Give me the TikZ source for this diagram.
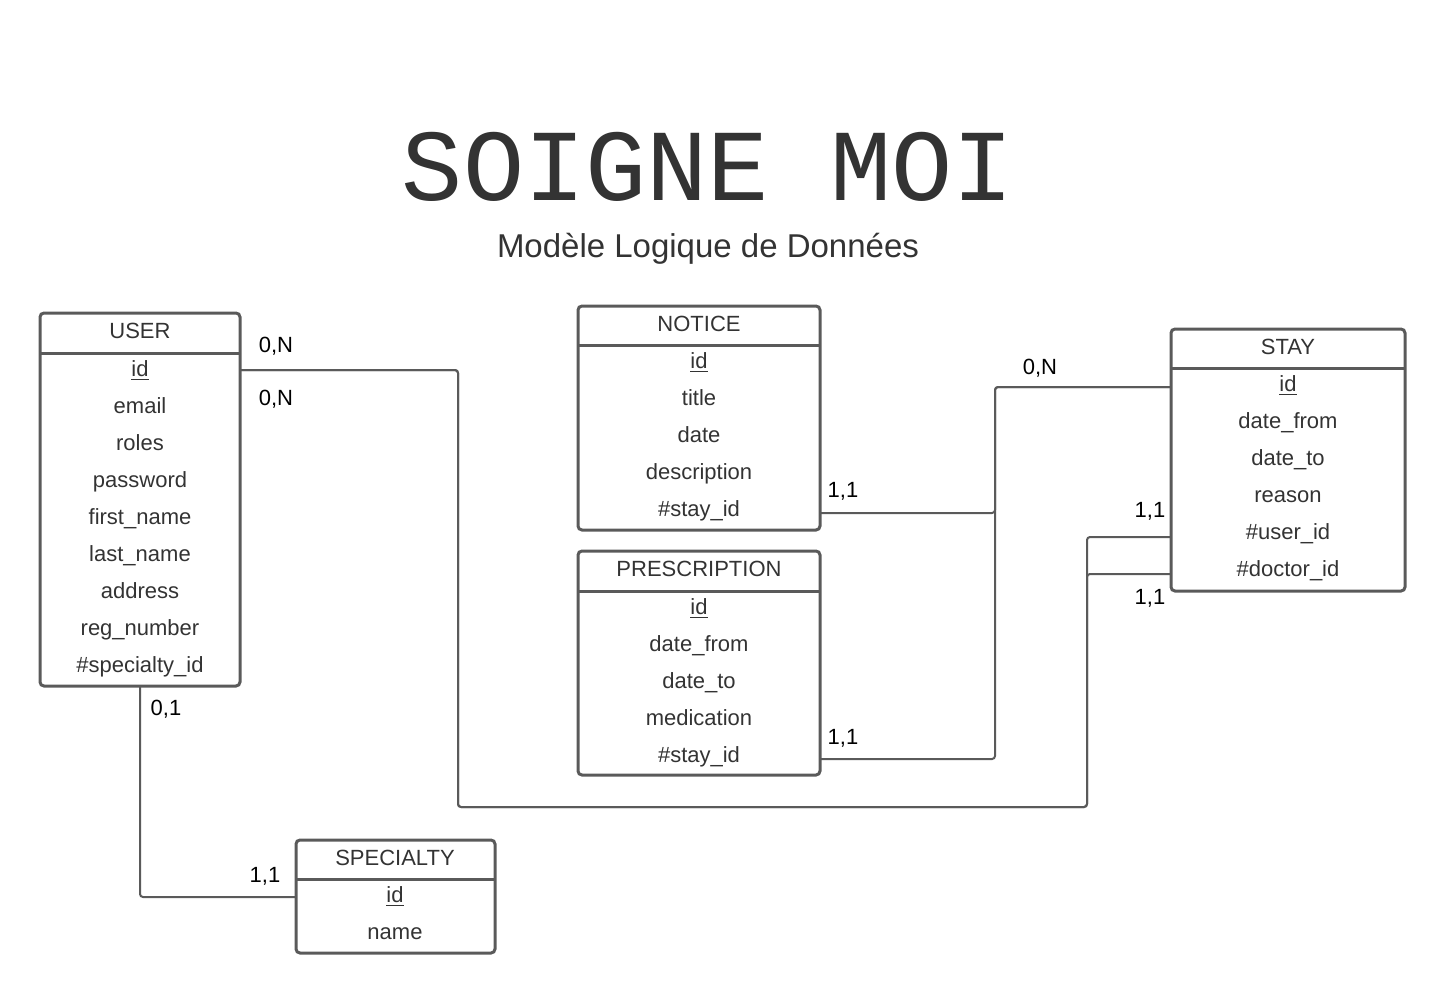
\documentclass[tikz,border=0pt]{standalone}
\usepackage{fontspec}
\setmainfont{Liberation Sans}
\newfontfamily\titlefont{Liberation Mono}
\definecolor{linegray}{HTML}{5A5A5A}
\definecolor{txtgray}{HTML}{333333}
\begin{document}
\begin{tikzpicture}[x=0.5pt,y=-0.5pt,
  box/.style={draw=linegray, line width=1.5pt, rounded corners=2pt, inner sep=0pt, outer sep=0pt, anchor=north west},
  hline/.style={draw=linegray, line width=1.5pt},
  attr/.style={text=txtgray, font=\fontsize{11}{13}\selectfont, text height=8pt, text depth=2.5pt, inner sep=0pt},
  card/.style={text=black, font=\fontsize{11}{13}\selectfont, inner sep=0pt},
  conn/.style={draw=linegray, line width=1pt, rounded corners=1.5pt}]
\useasboundingbox (0,0) rectangle (1446,993);

% title
\node[text=txtgray, font=\titlefont\fontsize{51}{56}\selectfont, anchor=base, inner sep=0pt] (title) at (708,200) {SOIGNE MOI};
\node[text=txtgray, font=\fontsize{16.5}{20}\selectfont, anchor=base, inner sep=0pt] (subtitle) at (708,257) {Modèle Logique de Données};

% USER
\node[box, minimum width=100pt, minimum height=186.5pt] (user) at (40,313) {};
\draw[hline] ([yshift=-20pt]user.north west) -- ([yshift=-20pt]user.north east);
\node[attr] (user-t) at (140,333) {USER};
\foreach \t [count=\i] in {{\underline{id}},email,roles,password,first\_name,last\_name,address,reg\_number,\#specialty\_id}
  \node[attr] (user-\i) at (140,{371+37*(\i-1)}) {\t};

% NOTICE
\node[box, minimum width=121pt, minimum height=112pt] (notice) at (578,306) {};
\draw[hline] ([yshift=-19.5pt]notice.north west) -- ([yshift=-19.5pt]notice.north east);
\node[attr] (notice-t) at (699,326) {NOTICE};
\foreach \t [count=\i] in {{\underline{id}},title,date,description,\#stay\_id}
  \node[attr] (notice-\i) at (699,{363+37*(\i-1)}) {\t};

% PRESCRIPTION
\node[box, minimum width=121pt, minimum height=112pt] (presc) at (578,551) {};
\draw[hline] ([yshift=-20pt]presc.north west) -- ([yshift=-20pt]presc.north east);
\node[attr] (presc-t) at (699,571) {PRESCRIPTION};
\foreach \t [count=\i] in {{\underline{id}},date\_from,date\_to,medication,\#stay\_id}
  \node[attr] (presc-\i) at (699,{609+37*(\i-1)}) {\t};

% STAY
\node[box, minimum width=117pt, minimum height=131pt] (stay) at (1171,329) {};
\draw[hline] ([yshift=-19.5pt]stay.north west) -- ([yshift=-19.5pt]stay.north east);
\node[attr] (stay-t) at (1288,349) {STAY};
\foreach \t [count=\i] in {{\underline{id}},date\_from,date\_to,reason,\#user\_id,\#doctor\_id}
  \node[attr] (stay-\i) at (1288,{386+37*(\i-1)}) {\t};

% SPECIALTY
\node[box, minimum width=99.5pt, minimum height=56.5pt] (spec) at (296,840) {};
\draw[hline] ([yshift=-19.5pt]spec.north west) -- ([yshift=-19.5pt]spec.north east);
\node[attr] (spec-t) at (395,860) {SPECIALTY};
\foreach \t [count=\i] in {{\underline{id}},name}
  \node[attr] (spec-\i) at (395,{897+37*(\i-1)}) {\t};

% connectors
\coordinate (j1) at (458,807);
\coordinate (j2) at (1087,807);
\coordinate (v) at (995,387);
\draw[conn] ([yshift=0.5pt]user-1 -| user.east) -| (j1) -- (j2) |- ([yshift=-1.5pt]stay-5 -| stay.west);
\draw[conn] ([yshift=0.5pt]user-1 -| user.east) -| (j1) -- (j2) |- ([yshift=-1.5pt]stay-6 -| stay.west);
\draw[conn] ([yshift=-1pt]notice-5 -| notice.east) -| (v) -- ([yshift=-0.5pt]stay-1 -| stay.west);
\draw[conn] ([yshift=-1pt]presc-5 -| presc.east) -| (v) -- ([yshift=-0.5pt]stay-1 -| stay.west);
\draw[conn] (user.south) |- ([yshift=0pt]spec-1 -| spec.west);

% cardinalities
\node[card] (c1) at (276,346) {0,N};
\node[card] (c2) at (276,399) {0,N};
\node[card] (c3) at (1040,368) {0,N};
\node[card] (c4) at (843,491) {1,1};
\node[card] (c5) at (843,738) {1,1};
\node[card] (c6) at (1150,511) {1,1};
\node[card] (c7) at (1150,598) {1,1};
\node[card] (c8) at (166,709) {0,1};
\node[card] (c9) at (265,876) {1,1};
\end{tikzpicture}
\end{document}
